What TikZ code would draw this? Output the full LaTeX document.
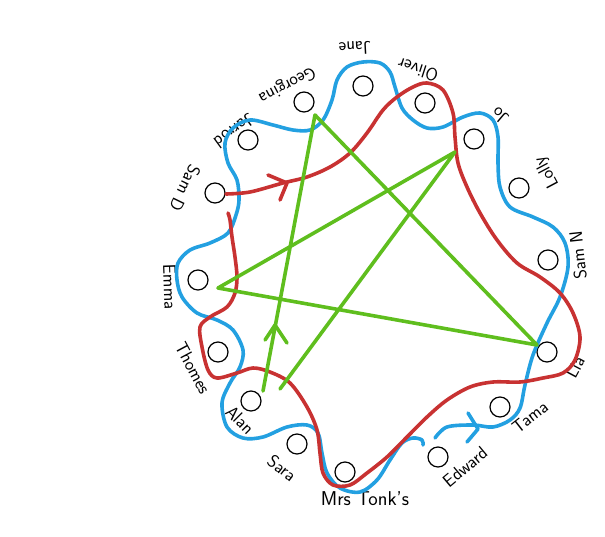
\documentclass[tikz,border=0pt]{standalone}
\usetikzlibrary{calc}
\definecolor{penblue}{RGB}{35,160,225}
\definecolor{penred}{RGB}{200,50,50}
\definecolor{pengreen}{RGB}{95,190,30}
\tikzset{
  seat/.style={draw, circle, minimum size=20pt, inner sep=0pt, line width=1.2pt},
  kid/.style={font=\sffamily\fontsize{18}{20}\selectfont, inner sep=0pt},
  blueline/.style={penblue, line width=3.6pt, line cap=round, line join=round},
  redline/.style={penred, line width=3.6pt, line cap=round, line join=round},
  greenline/.style={pengreen, line width=3.6pt, line cap=round, line join=round}
}
\begin{document}
\begin{tikzpicture}[x=1pt, y=-1pt]
\useasboundingbox (0,0) rectangle (605,536);
% seats
\node[seat] (tonks) at (345,472) {};
\node[seat] (edward) at (438,457) {};
\node[seat] (tama) at (500,407) {};
\node[seat] (lia) at (547,352) {};
\node[seat] (samn) at (548,260) {};
\node[seat] (lolly) at (519,188) {};
\node[seat] (jo) at (474,139) {};
\node[seat] (oliver) at (425,103) {};
\node[seat] (jane) at (363,86) {};
\node[seat] (georgina) at (304,102) {};
\node[seat] (jarrod) at (248,140) {};
\node[seat] (samd) at (215,193) {};
\node[seat] (emma) at (198,280) {};
\node[seat] (thomes) at (218,352) {};
\node[seat] (alan) at (251,401) {};
\node[seat] (sara) at (297,444) {};
% names
\node[kid, font=\sffamily\fontsize{20}{22}\selectfont] (ltonks) at (365,499) {Mrs Tonk's};
\node[kid, rotate=40] (ledward) at (465,467) {Edward};
\node[kid, rotate=38] (ltama) at (530,417) {Tama};
\node[kid, rotate=62] (llia) at (575,367) {Lia};
\node[kid, rotate=96] (lsamn) at (578,255) {Sam N};
\node[kid, rotate=118] (llolly) at (547,172) {Lolly};
\node[kid, rotate=140] (ljo) at (500,116) {Jo};
\node[kid, rotate=162] (loliver) at (418,70) {Oliver};
\node[kid, rotate=183] (ljane) at (355,48) {Jane};
\node[kid, rotate=208] (lgeorgina) at (287,85) {Georgina};
\node[kid, rotate=216] (ljarrod) at (234,131) {Jarrod};
\node[kid, rotate=244] (lsamd) at (185,188) {Sam D};
\node[kid, rotate=-88] (lemma) at (170,287) {Emma};
\node[kid, rotate=-62] (lthomes) at (193,368) {Thomes};
\node[kid, rotate=-45] (lalan) at (240,420) {Alan};
\node[kid, rotate=-38] (lsara) at (282,468) {Sara};
% blue line
\draw[blueline] plot[smooth, tension=0.55] coordinates {
  (435,438) (447,427) (473,425) (493,427) (510,420) (520,408) (525,385)
  (533,355) (547,323) (560,297) (568,267) (565,243) (553,227) (533,217)
  (510,207) (500,187) (498,163) (498,137) (493,120) (480,113) (463,117)
  (443,127) (427,128) (413,120) (402,108) (395,87) (390,72) (380,63)
  (363,62) (347,67) (337,80) (332,100) (323,120) (310,130) (293,130)
  (273,125) (250,120) (233,128) (225,143) (228,163) (237,180) (239,200)
  (236,215) (228,233) (210,243) (190,250) (178,263) (177,280) (182,297)
  (197,313) (217,320) (233,330) (243,350) (240,367) (230,383) (222,403)
  (227,427) (243,438) (263,437) (287,427) (307,425) (318,433) (322,453)
  (327,473) (340,488) (360,492) (377,480) (390,460) (402,443) (413,438)
  (422,440) (423,445)};
\draw[blueline] (468,413) -- (478,429) -- (467,442);
% red line
\draw[redline] plot[smooth, tension=0.55] coordinates {
  (226,194) (250,192) (283,183) (307,177) (330,167) (350,153) (367,133)
  (383,110) (397,97) (413,87) (427,83) (443,90) (453,113) (455,137)
  (458,163) (467,187) (480,213) (497,240) (517,263) (540,277) (560,293)
  (573,313) (580,337) (575,360) (563,373) (543,378) (520,382) (493,382)
  (470,387) (447,400) (427,417) (407,437) (387,457) (367,473) (350,485)
  (333,485) (323,473) (320,453) (317,430) (307,407) (290,383) (270,372)
  (253,368) (237,373) (217,378) (208,370) (202,347) (200,327) (210,317)
  (227,307) (235,293) (237,277) (235,257) (232,237) (230,220) (228,213)};
\draw[redline] (268,175) -- (287,183) -- (280,200);
% green star
\coordinate (gg) at (315,115);
\coordinate (gj) at (455,152);
\coordinate (gl) at (537,345);
\coordinate (ge) at (218,288);
\coordinate (ga) at (263,391);
\coordinate (gb) at (280,389);
\draw[greenline] (ga) -- (gg) -- (gl) -- (ge) -- (gj) -- (gb);
\draw[greenline] (265,340) -- (275,325) -- (287,343);
\end{tikzpicture}
\end{document}
